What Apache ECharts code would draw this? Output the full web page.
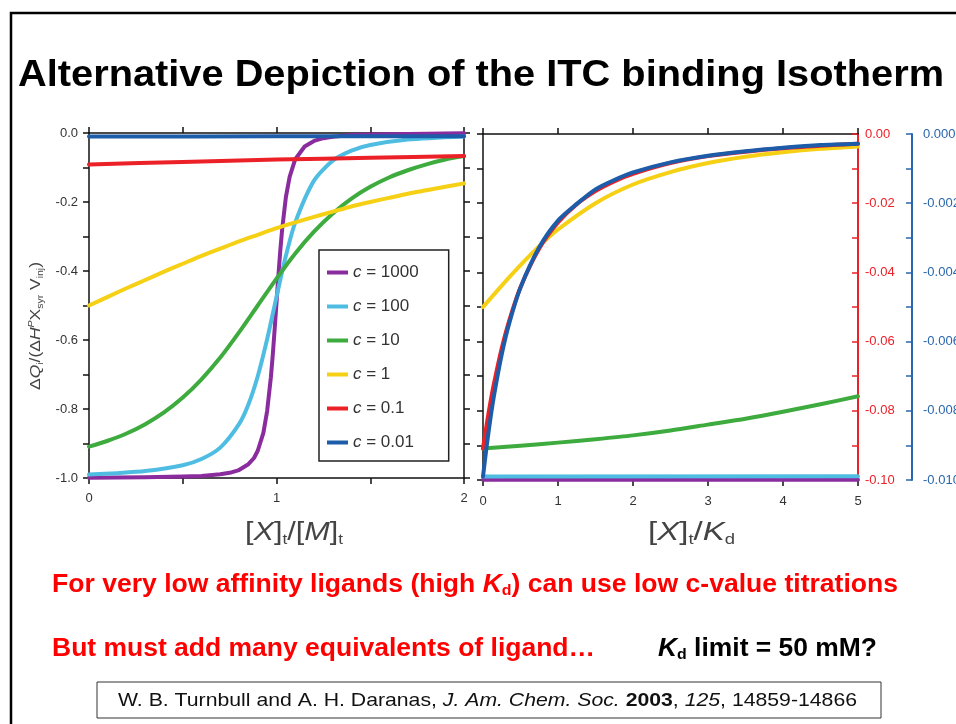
<!DOCTYPE html>
<html lang="en">
<head>
<meta charset="UTF-8">
<title>Alternative Depiction of the ITC binding Isotherm</title>
<script src="https://cdn.jsdelivr.net/npm/echarts@6/dist/echarts.min.js"></script>
<style>
  html, body { margin: 0; padding: 0; background: #fff; }
  #chart { width: 956px; height: 724px; }
</style>
</head>
<body>
<div id="chart"></div>
<script>
// ---- left panel, x = [X]t/[M]t ----
const leftX = [0, 0.1, 0.2, 0.3, 0.4, 0.5, 0.6, 0.7, 0.8, 0.9, 1, 1.1, 1.2, 1.3, 1.4, 1.5, 1.6, 1.7, 1.8, 1.9, 2];
const c10Left = [-0.909, -0.892, -0.871, -0.844, -0.810, -0.767, -0.714, -0.651, -0.578, -0.500, -0.422,
  -0.349, -0.286, -0.233, -0.190, -0.156, -0.129, -0.108, -0.091, -0.077, -0.067];
const c1Left = [-0.500, -0.475, -0.450, -0.426, -0.402, -0.379, -0.356, -0.335, -0.314, -0.295, -0.276,
  -0.259, -0.243, -0.228, -0.213, -0.200, -0.188, -0.176, -0.166, -0.156, -0.146];
const c1000X = [0, 0.3, 0.5, 0.6, 0.7, 0.75, 0.8, 0.85, 0.88, 0.9, 0.93, 0.95, 0.97, 0.98, 0.99, 1, 1.01, 1.02, 1.03,
  1.05, 1.07, 1.1, 1.15, 1.2, 1.25, 1.3, 1.4, 1.5, 2];
const c1000Left = [-0.999, -0.998, -0.996, -0.994, -0.989, -0.985, -0.977, -0.960, -0.942, -0.921, -0.869, -0.806,
  -0.708, -0.644, -0.570, -0.492, -0.414, -0.342, -0.280, -0.186, -0.127, -0.076, -0.039, -0.023, -0.015, -0.011,
  -0.006, -0.004, -0.001];
const c100X = [0, 0.15, 0.3, 0.5, 0.6, 0.7, 0.8, 0.85, 0.9, 0.95, 1, 1.05, 1.1, 1.2, 1.3, 1.4, 1.5, 1.7, 2];
const c100Left = [-0.990, -0.986, -0.980, -0.963, -0.945, -0.912, -0.844, -0.787, -0.705, -0.598, -0.475,
  -0.356, -0.259, -0.138, -0.080, -0.051, -0.035, -0.019, -0.010];
const c01X = [0, 0.5, 1, 1.5, 2];
const c01Left = [-0.091, -0.084, -0.077, -0.072, -0.067];
const c001X = [0, 1, 2];
const c001Left = [-0.0099, -0.0097, -0.0095];

// ---- right panel, x = [X]t/Kd ----
const rightX = [0, 0.05, 0.1, 0.15, 0.25, 0.35, 0.5, 0.75, 1, 1.25, 1.5, 1.75, 2, 2.5, 3, 3.5, 4, 4.5, 5];
const c01Right = [-0.0909, -0.0838, -0.0774, -0.0717, -0.0619, -0.0539, -0.0443, -0.0331, -0.0256, -0.0203,
  -0.0165, -0.0137, -0.0115, -0.0084, -0.0064, -0.0051, -0.0041, -0.0034, -0.0028];           // red axis
const c001Right = [-0.00990, -0.00900, -0.00821, -0.00752, -0.00637, -0.00547, -0.00444, -0.00327, -0.00250, -0.00202,
  -0.00160, -0.00133, -0.00111, -0.00082, -0.00063, -0.00050, -0.00040, -0.00032, -0.00028]; // blue axis
const c1RightX = [0, 0.25, 0.5, 0.75, 1, 1.5, 2, 2.5, 3, 3.5, 4, 4.5, 5];
const c1Right = [-0.500, -0.438, -0.379, -0.324, -0.276, -0.200, -0.146, -0.110, -0.084, -0.066, -0.053, -0.043, -0.036];
const c10RightX = [0, 0.5, 1, 1.5, 2, 2.5, 3, 3.5, 4, 4.5, 5];
const c10Right = [-0.909, -0.901, -0.892, -0.882, -0.871, -0.857, -0.840, -0.823, -0.803, -0.781, -0.758];
const flatX = [0, 5];
const c100Right = [-0.990, -0.989];
const c1000Right = [-0.999, -0.999];

const names = ['c = 1000', 'c = 100', 'c = 10', 'c = 1', 'c = 0.1', 'c = 0.01'];
const colors = ['#8b2c9e', '#4fbde2', '#3dab3d', '#f6d015', '#ec2027', '#1d5ca8'];

const F = "'Liberation Sans', Arial, Helvetica, sans-serif";
const ink = '#111';
const tickText = '#333';

const zip = (xs, ys) => xs.map((x, i) => [x, ys[i]]);

const leftData = [[c1000X, c1000Left], [c100X, c100Left], [leftX, c10Left], [leftX, c1Left], [c01X, c01Left], [c001X, c001Left]];
const rightData = [[flatX, c1000Right, 2], [flatX, c100Right, 2], [c10RightX, c10Right, 2], [c1RightX, c1Right, 2], [rightX, c01Right, 3], [rightX, c001Right, 4]];

function line(i, xs, ys, xIdx, yIdx, smooth) {
  return {
    type: 'line', name: names[i], color: colors[i],
    xAxisIndex: xIdx, yAxisIndex: yIdx,
    data: zip(xs, ys),
    symbol: 'none', smooth: smooth, clip: false,
    lineStyle: { width: 4, color: colors[i], join: 'round', cap: 'round' },
    emphasis: { disabled: true }, silent: true
  };
}
const series = [];
// the steep c = 1000 curve stays a polyline (dense points), the others get light smoothing
leftData.forEach((d, i) => series.push(line(i, d[0], d[1], 0, 0, i === 0 ? false : 0.25)));
rightData.forEach((d, i) => series.push(line(i, d[0], d[1], 2, d[2], 0.25)));

// a frame axis (ticks outward unless inside, no labels unless fmt given)
function axis(o) {
  const col = o.color || ink;
  return {
    type: 'value', gridIndex: o.grid, position: o.pos, offset: o.offset || 0,
    min: o.min, max: o.max, interval: o.interval,
    axisLine: { show: true, onZero: false, lineStyle: { color: col, width: o.lw || 1.5 } },
    axisTick: { show: true, inside: !!o.inside, length: 6, lineStyle: { color: col, width: 1.5 } },
    minorTick: { show: !!o.minor, splitNumber: 2, length: 6, lineStyle: { color: col, width: 1.5 } },
    splitLine: { show: false }, minorSplitLine: { show: false },
    axisLabel: o.fmt ? { show: true, margin: o.margin, color: o.labelColor || tickText, fontSize: 13, fontFamily: F, formatter: o.fmt } : { show: false }
  };
}

// text helpers for the slide texts (width fitted to the reference)
const ctx = document.createElement('canvas').getContext('2d');
function measure(parts, rich) {
  let w = 0;
  parts.forEach(([k, s]) => {
    const r = rich[k];
    ctx.font = (r.fontStyle || 'normal') + ' ' + (r.fontWeight || 'normal') + ' ' + r.fontSize + 'px ' + F;
    w += ctx.measureText(s).width;
  });
  return w;
}
function slideText(parts, rich, x, y, width, align, rotation) {
  return {
    type: 'text', x: x, y: y, rotation: rotation || 0, scaleX: width / measure(parts, rich), silent: true,
    style: {
      text: parts.map(([k, s]) => '{' + k + '|' + s + '}').join(''),
      rich: rich, align: align || 'left', verticalAlign: 'middle'
    }
  };
}
function st(size, fill, extra) {
  return Object.assign({ fontSize: size, fontFamily: F, fill: fill }, extra || {});
}

const titleRich = { b: st(36, '#000', { fontWeight: 'bold' }) };
const redRich = {
  b: st(25, '#ff0000', { fontWeight: 'bold' }),
  bi: st(25, '#ff0000', { fontWeight: 'bold', fontStyle: 'italic' }),
  bs: st(15, '#ff0000', { fontWeight: 'bold', padding: [12, 0, 0, 0] })
};
const blackRich = {
  b: st(25, '#000', { fontWeight: 'bold' }),
  bi: st(25, '#000', { fontWeight: 'bold', fontStyle: 'italic' }),
  bs: st(15, '#000', { fontWeight: 'bold', padding: [12, 0, 0, 0] })
};
const citeRich = {
  n: st(19, '#111'),
  i: st(19, '#111', { fontStyle: 'italic' }),
  b: st(19, '#111', { fontWeight: 'bold' })
};
const figRich = {
  n: st(25, '#444'),
  i: st(25, '#444', { fontStyle: 'italic' }),
  s: st(14, '#444', { padding: [15, 0, 0, 0] })
};
const yRich = {
  n: st(15, '#444'),
  i: st(15, '#444', { fontStyle: 'italic' }),
  s: st(9, '#444', { padding: [10, 0, 0, 0] }),
  p: st(9, '#444', { fontStyle: 'italic', padding: [0, 0, 10, 0] })
};

const graphic = [
  { type: 'rect', silent: true, shape: { x: 11, y: 13, width: 1000, height: 800 }, style: { fill: 'none', stroke: '#000', lineWidth: 2.5 } },
  slideText([['b', 'Alternative Depiction of the ITC binding Isotherm']], titleRich, 18, 76, 926),
  slideText([['n', 'Δ'], ['i', 'Q'], ['s', 'i'], ['n', '/(Δ'], ['i', 'H'], ['p', 'P'], ['n', 'X'], ['s', 'syr'], ['n', ' V'], ['s', 'inj'], ['n', ')']],
    yRich, 36, 326, 128, 'center', Math.PI / 2),
  slideText([['n', '['], ['i', 'X'], ['n', ']'], ['s', 't'], ['n', '/['], ['i', 'M'], ['n', ']'], ['s', 't']], figRich, 245, 533, 98),
  slideText([['n', '['], ['i', 'X'], ['n', ']'], ['s', 't'], ['n', '/'], ['i', 'K'], ['s', 'd']], figRich, 648, 533, 87),
  slideText([['b', 'For very low affinity ligands (high '], ['bi', 'K'], ['bs', 'd'], ['b', ') can use low c-value titrations']],
    redRich, 52, 585, 846),
  slideText([['b', 'But must add many equivalents of ligand…']], redRich, 52, 649, 543),
  slideText([['bi', 'K'], ['bs', 'd'], ['b', ' limit = 50 mM?']], blackRich, 658, 649, 219),
  { type: 'rect', silent: true, shape: { x: 97, y: 682, width: 784, height: 36 }, style: { fill: 'none', stroke: '#333', lineWidth: 1 } },
  slideText([['n', 'W. B. Turnbull and A. H. Daranas, '], ['i', 'J. Am. Chem. Soc.'], ['n', ' '], ['b', '2003'], ['n', ', '], ['i', '125'], ['n', ', 14859-14866']],
    citeRich, 118, 701, 739)
];

const chart = echarts.init(document.getElementById('chart'), null, { renderer: 'canvas' });
chart.setOption({
  animation: false,
  backgroundColor: '#fff',
  grid: [
    { left: 89, top: 133, width: 375, height: 345, outerBoundsMode: 'none', containLabel: false },
    { left: 483, top: 134, width: 375, height: 346, outerBoundsMode: 'none', containLabel: false }
  ],
  xAxis: [
    axis({ grid: 0, pos: 'bottom', min: 0, max: 2, interval: 1, minor: true, margin: 14, fmt: v => String(v) }),
    axis({ grid: 0, pos: 'top', min: 0, max: 2, interval: 1, minor: true }),
    axis({ grid: 1, pos: 'bottom', min: 0, max: 5, interval: 1, margin: 15, fmt: v => String(v) }),
    axis({ grid: 1, pos: 'top', min: 0, max: 5, interval: 1 })
  ],
  yAxis: [
    axis({ grid: 0, pos: 'left', min: -1, max: 0, interval: 0.2, minor: true, margin: 11, fmt: v => v.toFixed(1) }),
    axis({ grid: 0, pos: 'right', min: -1, max: 0, interval: 0.2, minor: true }),
    axis({ grid: 1, pos: 'left', min: -1, max: 0, interval: 0.1 }),
    axis({ grid: 1, pos: 'right', min: -0.1, max: 0, interval: 0.02, minor: true, inside: true, lw: 2,
      color: '#ec2027', labelColor: '#ec2027', margin: 7, fmt: v => v.toFixed(2) }),
    axis({ grid: 1, pos: 'right', offset: 54, min: -0.01, max: 0, interval: 0.002, minor: true, inside: true, lw: 2,
      color: '#2a66ad', labelColor: '#2a66ad', margin: 11, fmt: v => v.toFixed(3) })
  ],
  legend: {
    data: names, orient: 'vertical', left: 319, top: 250,
    padding: [14, 30, 10, 8], itemGap: 17, itemWidth: 21, itemHeight: 4, icon: 'rect',
    borderColor: '#222', borderWidth: 1.5, backgroundColor: '#fff', selectedMode: false,
    formatter: name => '{i|c}{n|' + name.slice(1) + '}',
    textStyle: {
      color: '#333', fontSize: 17, fontFamily: F,
      rich: {
        i: { fontStyle: 'italic', fontSize: 17, fontFamily: F, color: '#333', lineHeight: 17 },
        n: { fontSize: 17, fontFamily: F, color: '#333', lineHeight: 17 }
      }
    }
  },
  graphic: graphic,
  series: series
});
</script>
</body>
</html>
